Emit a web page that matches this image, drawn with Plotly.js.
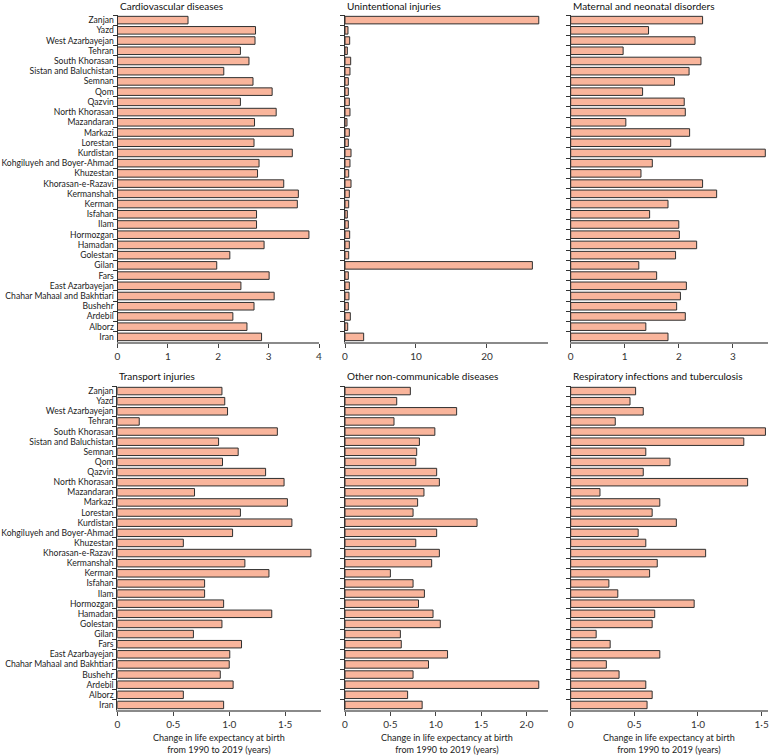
<!DOCTYPE html>
<html>
<head>
<meta charset="utf-8">
<script src="https://cdn.plot.ly/plotly-3.0.1.min.js"></script>
<style>
html,body{margin:0;padding:0;background:#fff;}
#chart{width:775px;height:756px;}
</style>
</head>
<body>
<div id="chart"></div>
<script>
// Categories, top to bottom as drawn
const locations = ["Zanjan","Yazd","West Azarbayejan","Tehran","South Khorasan","Sistan and Baluchistan","Semnan","Qom","Qazvin","North Khorasan","Mazandaran","Markazi","Lorestan","Kurdistan","Kohgiluyeh and Boyer-Ahmad","Khuzestan","Khorasan-e-Razavi","Kermanshah","Kerman","Isfahan","Ilam","Hormozgan","Hamadan","Golestan","Gilan","Fars","East Azarbayejan","Chahar Mahaal and Bakhtiari","Bushehr","Ardebil","Alborz","Iran"];

const cardiovascular = [1.40,2.74,2.73,2.44,2.61,2.11,2.69,3.07,2.44,3.15,2.72,3.49,2.71,3.47,2.81,2.78,3.30,3.59,3.57,2.76,2.76,3.80,2.91,2.23,1.97,3.01,2.45,3.11,2.71,2.29,2.57,2.86];
const unintentional = [27.3,0.42,0.66,0.33,0.80,0.70,0.47,0.47,0.61,0.70,0.28,0.61,0.47,0.85,0.70,0.52,0.85,0.61,0.52,0.33,0.47,0.66,0.61,0.52,26.4,0.47,0.61,0.56,0.47,0.75,0.38,2.63];
const maternal = [2.44,1.44,2.30,0.97,2.41,2.19,1.92,1.33,2.10,2.12,1.02,2.20,1.85,3.60,1.51,1.30,2.44,2.70,1.80,1.46,2.00,2.01,2.33,1.94,1.26,1.59,2.14,2.03,1.96,2.12,1.39,1.80];
const transport = [0.935,0.96,0.985,0.196,1.43,0.905,1.08,0.94,1.325,1.49,0.69,1.52,1.10,1.56,1.03,0.59,1.73,1.14,1.355,0.78,0.78,0.95,1.38,0.935,0.68,1.11,1.005,1.00,0.92,1.035,0.59,0.95];
const otherNCD = [0.72,0.57,1.23,0.54,0.99,0.82,0.79,0.78,1.01,1.04,0.87,0.80,0.75,1.455,1.01,0.78,1.04,0.955,0.50,0.75,0.875,0.81,0.97,1.05,0.61,0.62,1.13,0.92,0.75,2.135,0.69,0.85];
const respiratory = [0.51,0.466,0.57,0.35,1.53,1.36,0.59,0.78,0.57,1.39,0.23,0.70,0.64,0.83,0.53,0.59,1.06,0.68,0.62,0.30,0.37,0.97,0.66,0.64,0.20,0.31,0.70,0.28,0.38,0.59,0.64,0.60];

const panelTitles = ["Cardiovascular diseases","Unintentional injuries","Maternal and neonatal disorders","Transport injuries","Other non-communicable diseases","Respiratory infections and tuberculosis"];
const panelValues = [cardiovascular, unintentional, maternal, transport, otherNCD, respiratory];

const tickVals = [[0,1,2,3,4],[0,10,20],[0,1,2,3],[0,0.5,1,1.5],[0,0.5,1,1.5,2],[0,0.5,1,1.5]];
const tickText = [["0","1","2","3","4"],["0","10","20"],["0","1","2","3"],["0","0·5","1·0","1·5"],["0","0·5","1·0","1·5","2·0"],["0","0·5","1·0","1·5"]];
const xAxisTitle = "Change in life expectancy at birth<br>from 1990 to 2019 (years)";

// layout geometry (pixels)
const W = 775, H = 756;
const colPx = [[117.5,319],[345,548],[570.7,768],[117.3,321],[345,548.3],[570.7,768]];
const xMax = [4, 28.6, 3.65, 1.82, 2.24, 1.55];
const rowPx = [[15,342],[386,710]];
const titleCenterPx = [6, 376];

const FONT = "Lato, 'Open Sans', sans-serif";
const fill = "#F9B59C";
const edge = "#2f2f2f";

const data = [];
const layout = {
  width: W, height: H,
  margin: {l:0, r:0, t:0, b:0},
  paper_bgcolor: "#fff", plot_bgcolor: "#fff",
  showlegend: false,
  bargap: 0.26,
  font: {family: FONT, size: 10, color: "#222"},
  annotations: []
};

for (let i = 0; i < 6; i++) {
  const n = i + 1;
  const xa = n === 1 ? "x" : "x" + n;
  const ya = n === 1 ? "y" : "y" + n;
  const row = i < 3 ? 0 : 1;
  data.push({
    type: "bar",
    orientation: "h",
    x: panelValues[i],
    y: locations,
    xaxis: xa, yaxis: ya,
    marker: {color: fill, line: {color: edge, width: 1}},
    hoverinfo: "x+y"
  });
  const xd = [colPx[i][0] / W, colPx[i][1] / W];
  const yd = [1 - rowPx[row][1] / H, 1 - rowPx[row][0] / H];
  layout["xaxis" + (n === 1 ? "" : n)] = {
    domain: xd,
    anchor: ya,
    range: [0, xMax[i]],
    tickmode: "array",
    tickvals: tickVals[i],
    ticktext: tickText[i],
    ticks: "outside", ticklen: 4, tickwidth: 1, tickcolor: "#444",
    showline: true, linecolor: "#8a8a8a", linewidth: 1.5,
    showgrid: false, zeroline: false,
    tickfont: {family: FONT, size: 10, color: "#333"},
    fixedrange: true
  };
  layout["yaxis" + (n === 1 ? "" : n)] = {
    domain: yd,
    anchor: xa,
    type: "category",
    autorange: "reversed",
    dtick: 1,
    ticks: "outside", ticklen: 4, tickwidth: 1, tickcolor: "#333",
    tickson: "boundaries",
    showline: true, linecolor: "#333", linewidth: 1,
    showgrid: false, zeroline: false,
    showticklabels: (i === 0 || i === 3),
    tickfont: {family: FONT, size: 8.6, color: "#222"},
    ticklabelstandoff: 1,
    fixedrange: true
  };
  layout.annotations.push({
    text: panelTitles[i],
    xref: "paper", yref: "paper",
    x: xd[0], y: 1 - titleCenterPx[row] / H,
    xanchor: "left", yanchor: "middle",
    showarrow: false,
    font: {family: FONT, size: 10, color: "#111"}
  });
  if (row === 1) {
    layout.annotations.push({
      text: xAxisTitle,
      xref: "paper", yref: "paper",
      x: (xd[0] + xd[1]) / 2, y: 1 - 730 / H,
      xanchor: "center", yanchor: "top",
      showarrow: false,
      font: {family: FONT, size: 9, color: "#222"}
    });
  }
}

Plotly.newPlot("chart", data, layout, {displayModeBar: false, staticPlot: true});
</script>
</body>
</html>
